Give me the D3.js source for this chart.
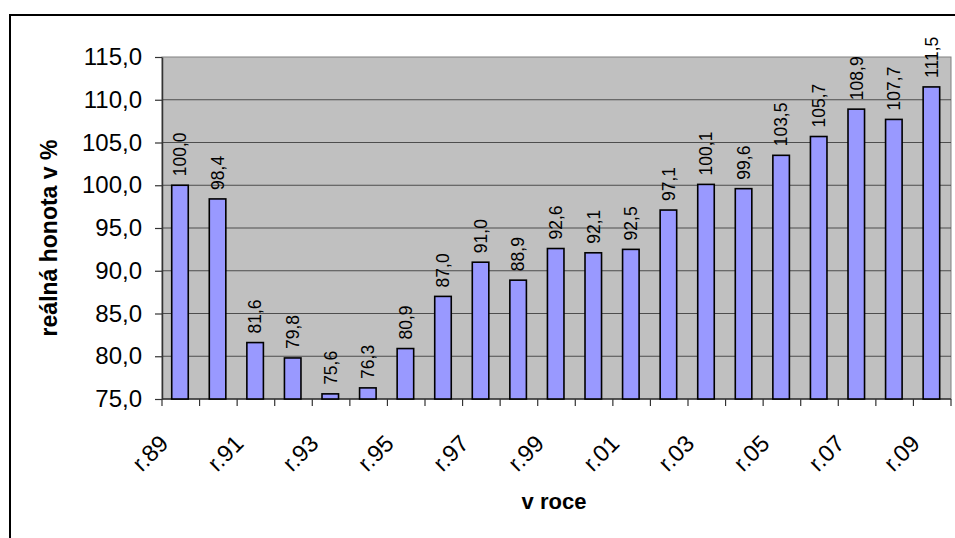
<!DOCTYPE html>
<html>
<head>
<meta charset="utf-8">
<script src="https://cdn.jsdelivr.net/npm/d3@7"></script>
<style>
  html, body { margin: 0; padding: 0; background: #fff; }
  svg { display: block; font-family: Arial, "Liberation Sans", sans-serif; }
</style>
</head>
<body>
<svg id="chart" width="955" height="538"></svg>
<script>
// Year categories and real value index (%)
const years = ["r.89","r.90","r.91","r.92","r.93","r.94","r.95","r.96","r.97","r.98","r.99",
               "r.00","r.01","r.02","r.03","r.04","r.05","r.06","r.07","r.08","r.09"];
const values = [100.0, 98.4, 81.6, 79.8, 75.6, 76.3, 80.9, 87.0, 91.0, 88.9, 92.6,
                92.1, 92.5, 97.1, 100.1, 99.6, 103.5, 105.7, 108.9, 107.7, 111.5];
const yTicks = [75, 80, 85, 90, 95, 100, 105, 110, 115];
const xLabelYears = years.filter((d, i) => i % 2 === 0);
const yTitle = "reálná honota v %";
const xTitle = "v roce";

const fmt = v => v.toFixed(1).replace(".", ",");

const svg = d3.select("#chart");
const plot = { left: 162, top: 57, right: 951, bottom: 399 };

// Outer chart frame (extends past the right and bottom edges)
svg.append("rect")
  .attr("x", 10).attr("y", 15)
  .attr("width", 960).attr("height", 540)
  .attr("fill", "#fff").attr("stroke", "#000").attr("stroke-width", 2);

const x = d3.scaleBand().domain(years).range([plot.left, plot.right]).paddingInner(0).paddingOuter(0);
const y = d3.scaleLinear().domain([75, 115]).range([plot.bottom, plot.top]);

// Plot area background
svg.append("rect")
  .attr("x", plot.left).attr("y", plot.top)
  .attr("width", plot.right - plot.left).attr("height", plot.bottom - plot.top)
  .attr("fill", "#c0c0c0").attr("stroke", "#808080").attr("stroke-width", 1);

// Horizontal gridlines
svg.append("g").selectAll("line")
  .data(yTicks.filter(t => t > 75 && t < 115))
  .join("line")
  .attr("x1", plot.left).attr("x2", plot.right)
  .attr("y1", d => y(d)).attr("y2", d => y(d))
  .attr("stroke", "#4d4d4d").attr("stroke-width", 1.2);

// Y axis
const yAxis = svg.append("g")
  .attr("transform", `translate(${plot.left},0)`)
  .call(d3.axisLeft(y).tickValues(yTicks).tickFormat(fmt).tickSize(7).tickSizeOuter(0).tickPadding(13));
yAxis.select(".domain").attr("stroke", "#333").attr("stroke-width", 1.5);
yAxis.selectAll(".tick line").attr("stroke", "#333").attr("stroke-width", 1.2);
yAxis.selectAll(".tick text").attr("font-size", 24).attr("fill", "#000")
  .attr("font-family", "Arial, 'Liberation Sans', sans-serif");

// X axis: ticks at category boundaries
const boundaries = years.map(d => x(d)).concat([plot.right]);
svg.append("line")
  .attr("x1", plot.left).attr("x2", plot.right)
  .attr("y1", plot.bottom).attr("y2", plot.bottom)
  .attr("stroke", "#333").attr("stroke-width", 1.5);
svg.append("g").selectAll("line")
  .data(boundaries)
  .join("line")
  .attr("x1", d => d).attr("x2", d => d)
  .attr("y1", plot.bottom).attr("y2", plot.bottom + 7)
  .attr("stroke", "#333").attr("stroke-width", 1.2);

// X labels, rotated, every other year
svg.append("g").selectAll("text")
  .data(xLabelYears)
  .join("text")
  .attr("transform", d => `translate(${x(d) + x.bandwidth() / 2 - 11},${plot.bottom + 46}) rotate(-45)`)
  .attr("text-anchor", "end")
  .attr("font-size", 23.5)
  .attr("fill", "#000")
  .text(d => d);

// Bars
const barW = x.bandwidth() * 0.44;
svg.append("g").selectAll("rect")
  .data(values)
  .join("rect")
  .attr("x", (d, i) => x(years[i]) + x.bandwidth() / 2 - barW / 2 - 0.8)
  .attr("y", d => y(d))
  .attr("width", barW)
  .attr("height", d => plot.bottom - y(d))
  .attr("fill", "#9999ff")
  .attr("stroke", "#000")
  .attr("stroke-width", 1.6);

// Value labels above bars
svg.append("g").selectAll("text")
  .data(values)
  .join("text")
  .attr("transform", (d, i) => `translate(${x(years[i]) + x.bandwidth() / 2 + 5.5},${y(d) - 9}) rotate(-90)`)
  .attr("text-anchor", "start")
  .attr("font-size", 17.5)
  .attr("fill", "#000")
  .text(d => fmt(d));

// Axis titles
svg.append("text")
  .attr("x", 554).attr("y", 509)
  .attr("text-anchor", "middle")
  .attr("font-size", 22).attr("font-weight", "bold")
  .text(xTitle);

svg.append("text")
  .attr("transform", "translate(57,238) rotate(-90)")
  .attr("text-anchor", "middle")
  .attr("font-size", 23).attr("font-weight", "bold")
  .text(yTitle);
</script>
</body>
</html>
